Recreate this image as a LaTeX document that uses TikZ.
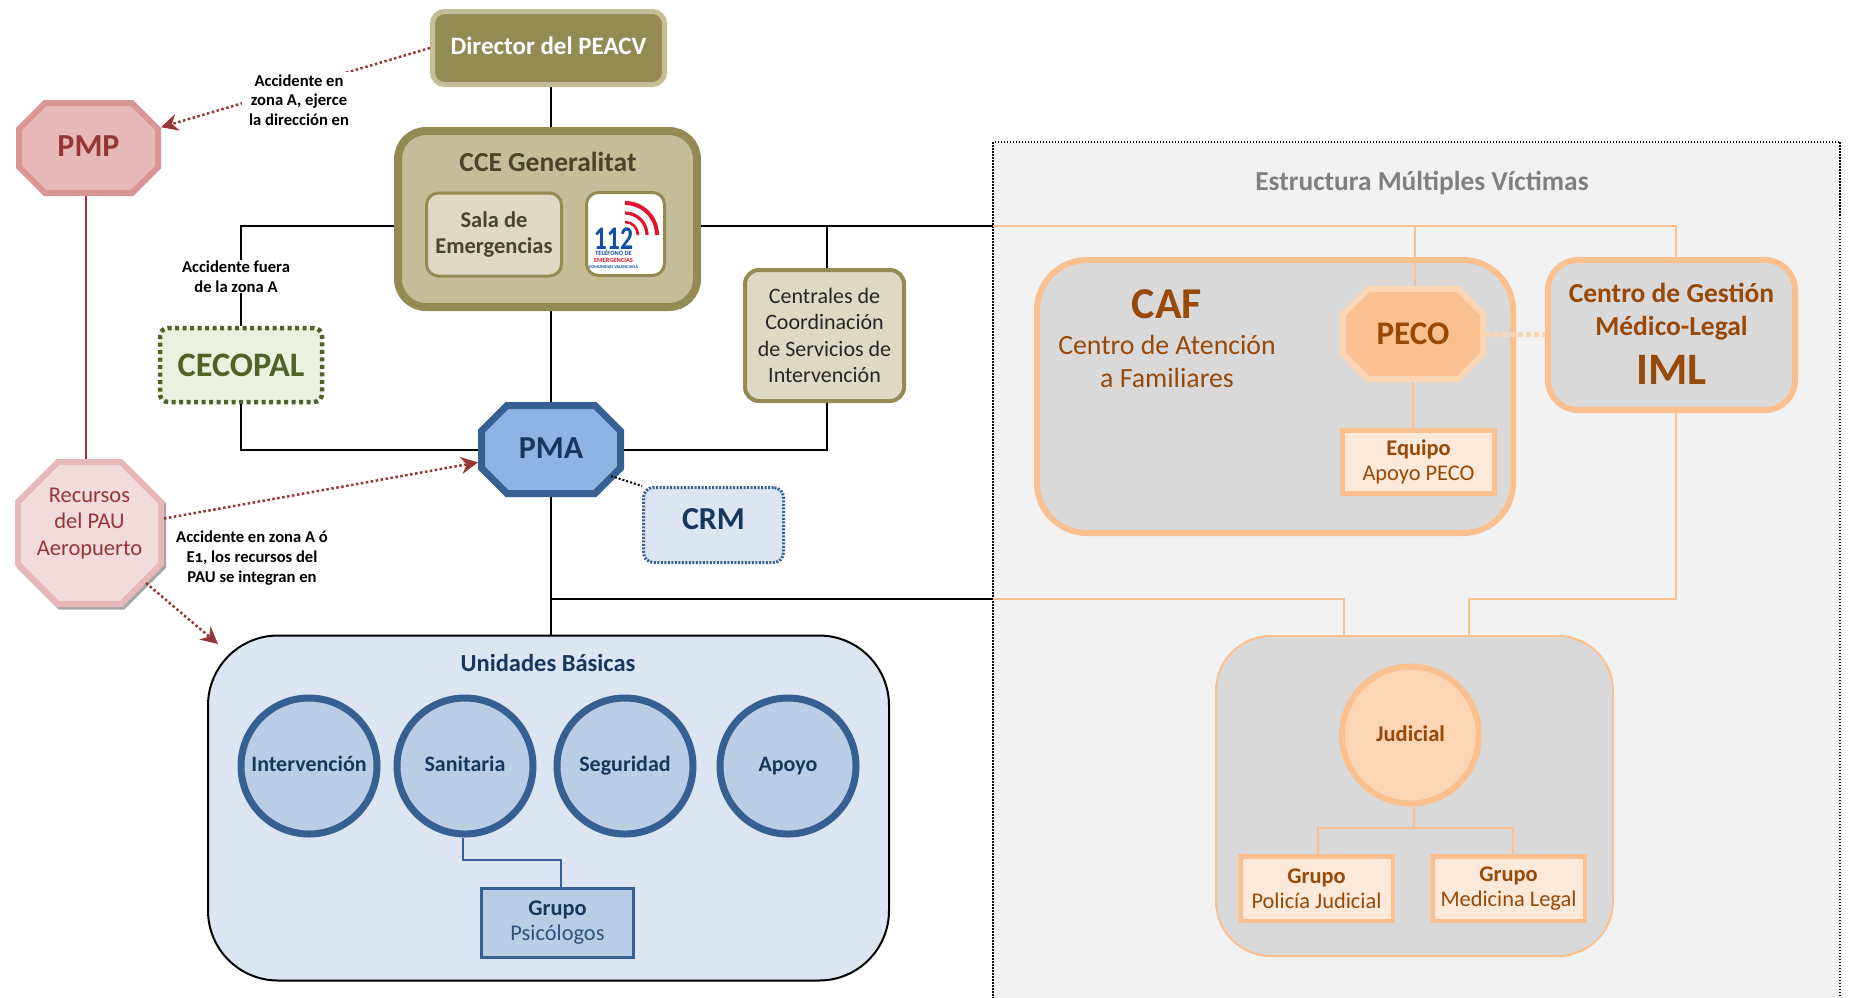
\documentclass[tikz,border=0pt]{standalone}
\usepackage{fontspec}
\setmainfont{Carlito}
\usetikzlibrary{arrows.meta,calc,shadows}
\definecolor{olive}{HTML}{948A54}
\definecolor{olivel}{HTML}{C4BD97}
\definecolor{olivep}{HTML}{DDD9C3}
\definecolor{olived}{HTML}{4A452A}
\definecolor{redd}{HTML}{953735}
\definecolor{redm}{HTML}{D99694}
\definecolor{redl}{HTML}{E6B9B8}
\definecolor{redp}{HTML}{F2DCDB}
\definecolor{greend}{HTML}{4F6228}
\definecolor{greenp}{HTML}{EBF1DE}
\definecolor{blued}{HTML}{17375D}
\definecolor{bluem}{HTML}{376092}
\definecolor{bluel}{HTML}{8EB4E3}
\definecolor{bluep}{HTML}{B9CDE5}
\definecolor{bluev}{HTML}{DCE6F2}
\definecolor{orad}{HTML}{984807}
\definecolor{oram}{HTML}{FAC090}
\definecolor{oral}{HTML}{FCD5B5}
\definecolor{orap}{HTML}{FDE9D9}
\definecolor{logoblue}{HTML}{0F4FA8}
\definecolor{logored}{HTML}{E2142D}
% #2 node, #3 cut from the outer corner, #4 half of the line width
\newcommand{\octagon}[4][]{%
  \draw[#1] ($(#2.north west)+(#3,#4)$) -- ($(#2.north east)+(-#3,#4)$)
    -- ($(#2.north east)+(-#4,#3)$) -- ($(#2.south east)+(-#4,-#3)$)
    -- ($(#2.south east)+(-#3,-#4)$) -- ($(#2.south west)+(#3,-#4)$)
    -- ($(#2.south west)+(#4,-#3)$) -- ($(#2.north west)+(#4,#3)$) -- cycle;}
\tikzset{
  box/.style={inner sep=0pt,align=center,rounded corners=#1},
  box/.default=12pt,
  octobox/.style={inner sep=0pt,outer sep=0pt},
  octotxt/.style={inner sep=0pt,align=center},
  ring/.style={circle,inner sep=0pt,align=center,minimum size=136pt,line width=7pt,draw=bluem,fill=bluep,text=blued,text height=14pt,text depth=4pt,font=\fontsize{22}{26}\selectfont\bfseries},
  sqbox/.style={inner sep=0pt,align=center,font=\fontsize{22.4}{25}\selectfont},
  oranbox/.style={sqbox,draw=oram,fill=orap,text=orad,line width=4.5pt},
  note/.style={inner sep=1pt,fill=white,align=center,font=\fontsize{16.6}{19.6}\selectfont\bfseries},
  mainline/.style={black,line width=2pt},
  oraline/.style={oram,line width=2pt},
  redarrow/.style={redd,line width=2.5pt,dash pattern=on 2.5pt off 2.5pt,-{Stealth[length=17pt,width=17pt]}}
}
\begin{document}
\begin{tikzpicture}[x=1pt,y=-1pt]
    \useasboundingbox (0,0) rectangle (1852,997);
    % panel on the right
    \fill[white] (0,0) rectangle (1852,997);
    \draw[fill=black!5,line width=1.2pt,dash pattern=on 1.5pt off 1.5pt] (993,142) rectangle (1840,1005);
    \node[text=black!50,font=\fontsize{27.4}{30}\selectfont\bfseries,inner sep=0pt] (victimas) at (1422,183) {Estructura Múltiples Víctimas};

    % left and centre
    \node[box,minimum width=232pt,minimum height=73pt,line width=5pt,draw=olivel,fill=olive,text=white,font=\fontsize{25}{29}\selectfont\bfseries] (dir) at (548.5,48) {\raisebox{5pt}{Director del PEACV}};
    \node[box=28pt,minimum width=299pt,minimum height=176pt,line width=8pt,draw=olive,fill=olivel] (cce) at (547.5,219) {};
    \node[inner sep=0pt,text=olived,font=\fontsize{27.5}{31}\selectfont\bfseries] (ccetitle) at (548,162) {CCE Generalitat};
    \node[box,minimum width=135pt,minimum height=83pt,line width=3pt,draw=olive,fill=olivep,text=olived,font=\fontsize{22.5}{26}\selectfont\bfseries] (sala) at (494,234.5) {Sala de\\Emergencias};
    \node[box,minimum width=78pt,minimum height=83pt,line width=3pt,draw=olive,fill=white] (tel) at (625.5,234) {};
    % logo
    \draw[logored,line width=4pt] (625,203) arc[start angle=-90,end angle=0,radius=32];
    \draw[logored,line width=3.2pt] (625,213) arc[start angle=-90,end angle=0,radius=22];
    \draw[logored,line width=2.6pt] (625,222) arc[start angle=-90,end angle=0,radius=13];
    \node[inner sep=0pt,text=logoblue,xscale=.78,font=\fontsize{33}{33}\selectfont\bfseries] (logonum) at (613.5,239) {112};
    \node[inner sep=0pt,align=center,text=logoblue,font=\fontsize{6.4}{6.8}\selectfont\bfseries] (logotxt) at (613.5,259.5) {TELÉFONO DE\\\textcolor{logored}{EMERGENCIAS}\\\fontsize{4.4}{5}\selectfont COMUNIDAD VALENCIANA};

    \node[octobox,minimum width=145pt,minimum height=96pt] (pmp) at (88.5,148) {};
    \octagon[line width=6pt,draw=redm,fill=redl]{pmp}{29}{3}
    \node[octotxt,text=redd,font=\fontsize{32}{38}\selectfont\bfseries] (pmptxt) at (88.5,146.5) {PMP};
    \node[octobox,minimum width=149pt,minimum height=148pt] (res) at (89.5,533) {};
    \octagon[transform canvas={shift={(2pt,-2.5pt)}},line width=6pt,draw=black!35,fill=black!35]{res}{43}{3}
    \octagon[line width=6pt,draw=redl,fill=redp]{res}{43}{3}
    \node[octotxt,text=redd,font=\fontsize{22.5}{26.5}\selectfont] (restxt) at (89.5,523.5) {Recursos\\del PAU\\Aeropuerto};
    \node[box=8pt,minimum width=162pt,minimum height=74pt,line width=4.5pt,dash pattern=on 4pt off 3.5pt,draw=greend,fill=greenp,text=greend,font=\fontsize{34.3}{39}\selectfont\bfseries] (cecopal) at (241,365) {CECOPAL};
    \node[octobox,minimum width=146pt,minimum height=95pt] (pma) at (551,449.5) {};
    \octagon[line width=7pt,draw=bluem,fill=bluel]{pma}{29}{3.5}
    \node[octotxt,text=blued,font=\fontsize{32}{38}\selectfont\bfseries] (pmatxt) at (551,448) {PMA};
    \node[box=10pt,minimum width=140pt,minimum height=75pt,line width=3pt,dash pattern=on 2pt off 1.5pt,draw=bluem,fill=bluev] (crm) at (713.5,525) {};
    \node[octotxt,text=blued,font=\fontsize{32}{38}\selectfont\bfseries] (crmtxt) at (713.5,519.5) {CRM};
    \node[box=14pt,minimum width=159pt,minimum height=131pt,line width=4pt,draw=olive,fill=olivep,text=black!85,font=\fontsize{22}{26.5}\selectfont] (centros) at (824.5,335.5) {Centrales de\\Coordinación\\de Servicios de\\Intervención};

    % basic units
    \node[box=70pt,minimum width=681pt,minimum height=345pt,line width=2pt,draw=black,fill=bluev] (unidades) at (548.5,808) {};
    \node[inner sep=0pt,text=blued,font=\fontsize{24.5}{29}\selectfont\bfseries] (unititle) at (548,663) {Unidades Básicas};
    \node[ring] (interv) at (309,766) {Intervención};
    \node[ring] (sanit) at (465,766) {Sanitaria};
    \node[ring] (segur) at (625,766) {Seguridad};
    \node[ring] (apoyo) at (788,766) {Apoyo};
    \node[sqbox,minimum width=152pt,minimum height=69pt,line width=3pt,draw=bluem,fill=bluep,text=bluem!85!black] (psico) at (557.5,923) {\textcolor{blued}{\bfseries Grupo}\\Psicólogos};

    % multiple victims
    \node[box=50pt,minimum width=476pt,minimum height=273pt,line width=6pt,draw=oram,fill=black!15] (caf) at (1275,396.5) {};
    \node[inner sep=0pt,align=center,text=orad,font=\fontsize{27.8}{33}\selectfont] (caftxt) at (1167,339) {\fontsize{44}{44}\selectfont\bfseries CAF\\[3pt]Centro de Atención\\a Familiares};
    \node[octobox,minimum width=146pt,minimum height=96pt] (peco) at (1413,334) {};
    \octagon[line width=6pt,draw=oral,fill=oram]{peco}{28}{3}
    \node[octotxt,text=orad,font=\fontsize{33}{38}\selectfont\bfseries] (pecotxt) at (1413,334) {PECO};
    \node[oranbox,minimum width=152pt,minimum height=63pt] (equipo) at (1418.5,462) {\bfseries Equipo\\Apoyo PECO};
    \node[box=30pt,minimum width=247pt,minimum height=150pt,line width=6pt,draw=oram,fill=black!15] (iml) at (1671.5,335) {};
    \node[inner sep=0pt,align=center,text=orad,font=\fontsize{27.5}{33}\selectfont\bfseries] (imltxt) at (1671.5,334) {Centro de Gestión\\Médico-Legal\\[14pt]\fontsize{45}{44}\selectfont IML};
    \node[box=55pt,minimum width=397pt,minimum height=320pt,line width=2pt,draw=oram,fill=black!15] (judbox) at (1414.5,796) {};
    \node[circle,inner sep=0pt,minimum size=137pt,line width=6pt,draw=oram,fill=oral,text=orad,font=\fontsize{22.5}{26}\selectfont\bfseries] (judic) at (1410.5,735) {\raisebox{3pt}{Judicial}};
    \node[oranbox,minimum width=152.5pt,minimum height=64.5pt] (policia) at (1316.5,888.5) {\bfseries Grupo\\Policía Judicial};
    \node[oranbox,minimum width=152.5pt,minimum height=64.5pt] (medicina) at (1508.5,888.5) {\bfseries Grupo\\Medicina Legal};

    % bus points
    \coordinate (trunk) at (551,226);
    \coordinate (buscen) at (827,226);
    \coordinate (busleft) at (241,226);
    \coordinate (buspanel) at (993,226);
    \coordinate (buspeco) at (1415,226);
    \coordinate (busiml) at (1676,226);
    \coordinate (lowpanel) at (993,599);
    \coordinate (lowjudl) at (1344,599);
    \coordinate (lowjudr) at (1469,599);
    \coordinate (lowiml) at (1676,599);
    \coordinate (juntrunk) at (551,599);
    \coordinate (pauline) at (86,330);
    \coordinate (sanit1) at (463,860);
    \coordinate (sanit2) at (561,860);
    \coordinate (judmid) at (1414,828);
    \coordinate (judl) at (1318,828);
    \coordinate (judr) at (1513,828);
    \coordinate (resout) at (146,583);
    \coordinate (uniarrow) at (218,644);
    \coordinate (pmaout) at (611,476);

    % black lines
    \draw[mainline] (trunk |- dir.south) -- (trunk |- cce.north);
    \draw[mainline] (trunk |- cce.south) -- (trunk |- pma.north);
    \draw[mainline] (trunk |- pma.south) -- (trunk |- unidades.north);
    \draw[mainline] (juntrunk) -- (lowpanel);
    \draw[mainline] (cce.east |- buspanel) -- (buspanel);
    \draw[mainline] (buscen) -- (buscen |- centros.north);
    \draw[mainline] (buscen |- centros.south) |- (pma.east);
    \draw[mainline] (cce.west |- busleft) -- (busleft) -- (busleft |- cecopal.north);
    \draw[mainline] (cecopal.south) |- (pma.west);
    \node[note] (notecec) at (236,276.5) {Accidente fuera\\de la zona A};

    % orange lines
    \draw[oraline] (buspanel) -- (busiml) -- (busiml |- iml.north);
    \draw[oraline] (buspeco) -- (peco.north -| buspeco);
    \draw[oraline] (peco.south) -- (equipo.north -| peco.south);
    \draw[oraline] (lowpanel) -- (lowjudl) -- (lowjudl |- judbox.north);
    \draw[oraline] (iml.south -| lowiml) -- (lowiml) -- (lowjudr) -- (lowjudr |- judbox.north);
    \draw[oraline] (judic.south -| judmid) -- (judmid);
    \draw[oraline] (policia.north -| judl) -- (judl) -- (judr) -- (medicina.north -| judr);
    \draw[oral,line width=5pt,dash pattern=on 5pt off 3pt] (peco.east) -- (peco.east -| iml.west);

    % other lines
    \draw[bluem,line width=2pt] (sanit1 |- sanit.south) -- (sanit1) -- (sanit2) -- (sanit2 |- psico.north);
    \draw[redd,line width=1.6pt] (pauline |- pmp.south) -- (pauline |- res.north);
    \draw[black,line width=2pt,dash pattern=on 2pt off 2pt] (pmaout) -- (crm.north west);

    % dotted arrows
    \draw[redarrow] (dir.west) -- (pmp.16);
    \node[note,inner xsep=7pt,inner ysep=3pt] (notedir) at (299,100) {Accidente en\\zona A, ejerce\\la dirección en};
    \draw[redarrow] (res.11) -- (pma.190);
    \draw[redarrow] (resout) -- (uniarrow);
    \node[note,fill=none] (notepau) at (252,558) {Accidente en zona A ó\\E{\addfontfeature{Numbers=OldStyle}1}, los recursos del\\PAU se integran en};
\end{tikzpicture}
\end{document}
